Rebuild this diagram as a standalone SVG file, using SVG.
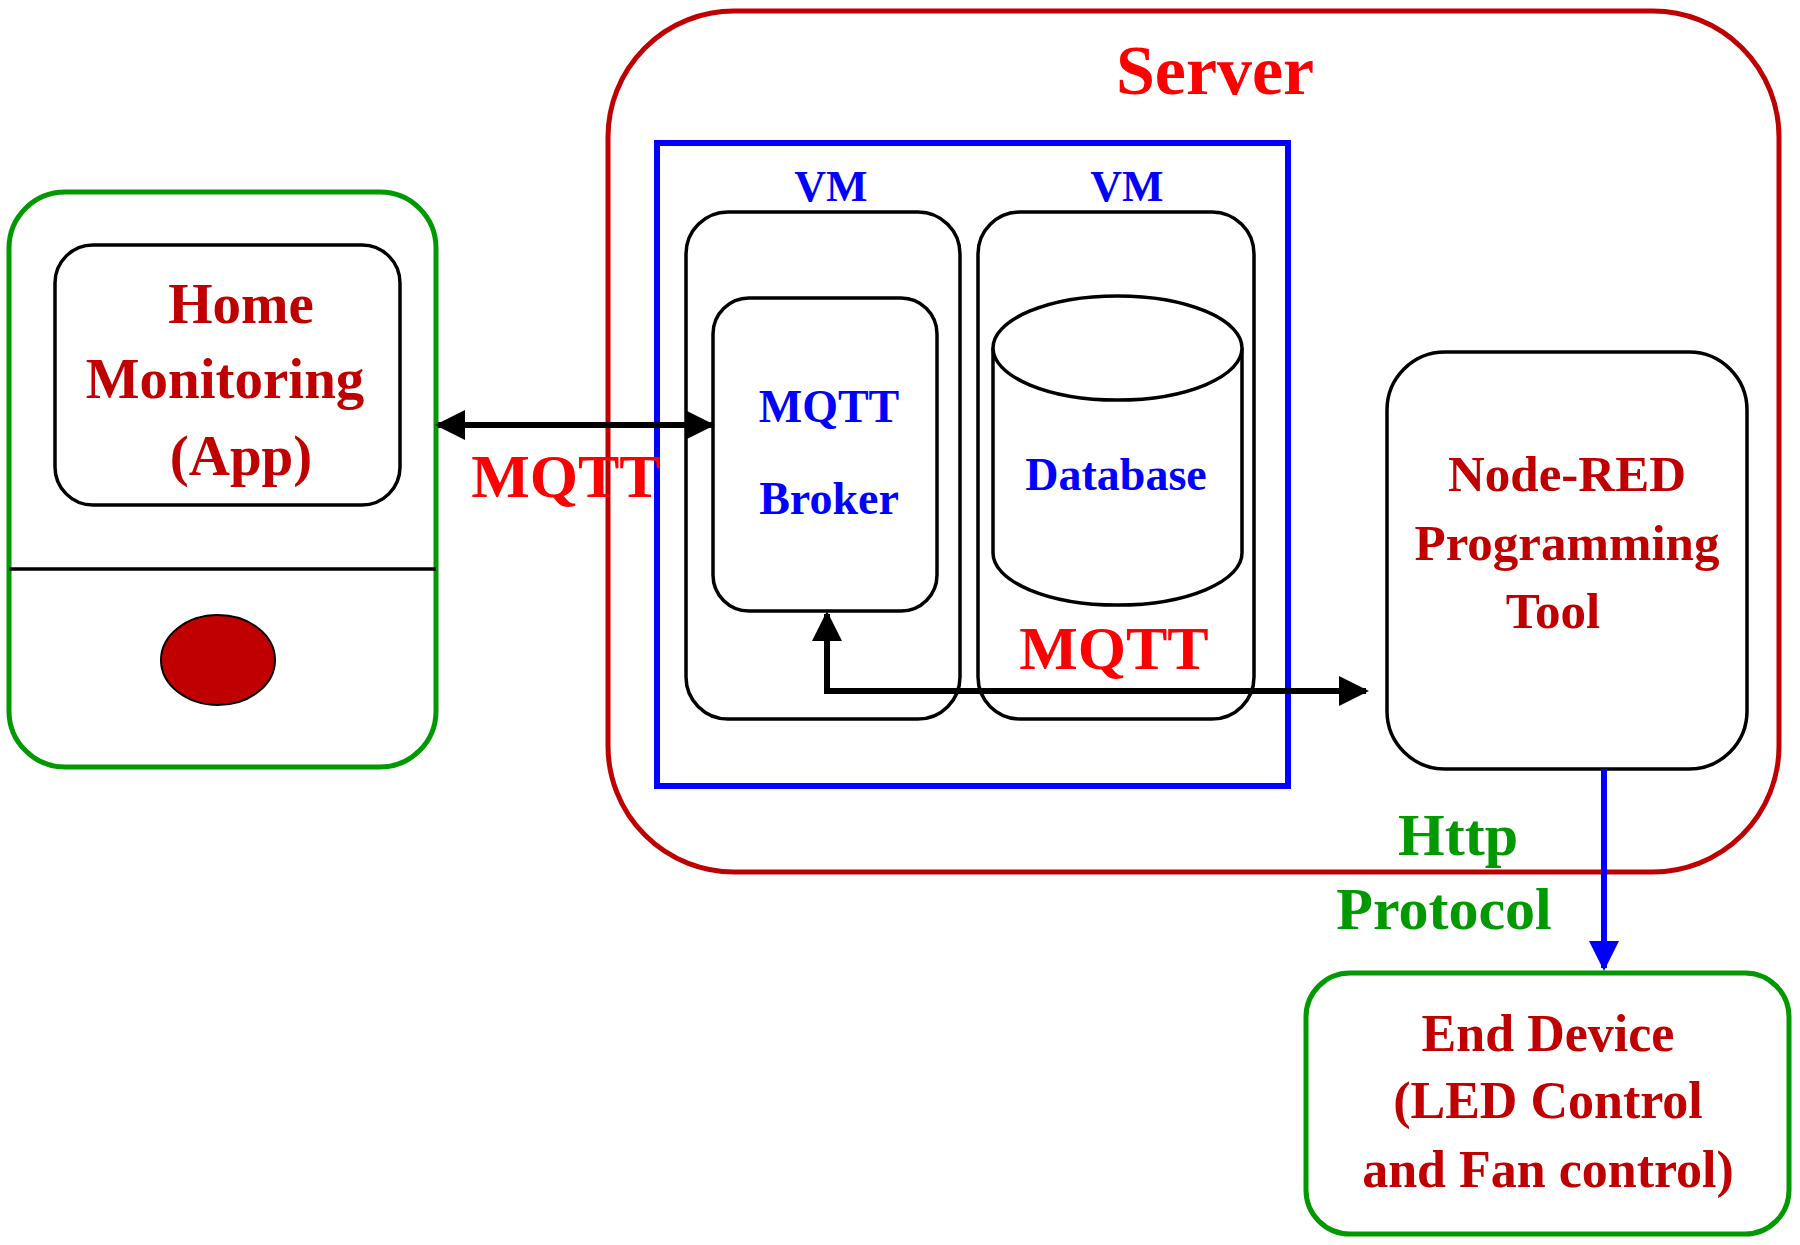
<svg xmlns="http://www.w3.org/2000/svg" width="1800" height="1245" viewBox="0 0 1800 1245">
<defs>
<style>
text{font-family:"Liberation Serif","Times New Roman",serif;font-weight:bold;text-anchor:middle}
.dr{fill:#c00000}.rd{fill:#ff0000}.bl{fill:#0000ff}.gr{fill:#009900}
.k{fill:none;stroke:#000;stroke-width:3.5}
</style>
<marker id="ak" viewBox="0 0 10 10" refX="9" refY="5" markerWidth="5" markerHeight="5" orient="auto-start-reverse"><path d="M0,0L10,5L0,10z" fill="#000"/></marker>
<marker id="ab" viewBox="0 0 10 10" refX="9" refY="5" markerWidth="5" markerHeight="5" orient="auto"><path d="M0,0L10,5L0,10z" fill="#0000ff"/></marker>
</defs>
<rect width="1800" height="1245" fill="#fff"/>
<g id="server"><rect x="608" y="11" width="1171" height="861" rx="126" fill="none" stroke="#c00000" stroke-width="5"/><text x="1215" y="94" font-size="70" class="rd">Server</text></g>
<g id="vmgroup"><rect x="657" y="143" width="631" height="643" fill="none" stroke="#0000ff" stroke-width="6"/></g>
<g id="vm1"><rect x="686" y="212" width="274" height="507" rx="42" class="k"/><text x="831" y="201" font-size="44" class="bl">VM</text></g>
<g id="vm2"><rect x="978" y="212" width="276" height="507" rx="42" class="k"/><text x="1127" y="201" font-size="44" class="bl">VM</text></g>
<g id="broker"><rect x="713" y="298" width="224" height="313" rx="36" class="k"/><text x="829" y="422" font-size="46" class="bl">MQTT</text><text x="829" y="514" font-size="46" class="bl">Broker</text></g>
<g id="database"><path d="M993,348 V553 A124.5,52 0 0 0 1242,553 V348" fill="#fff" stroke="#000" stroke-width="3.5"/><ellipse cx="1117.5" cy="348" rx="124.5" ry="52" fill="#fff" stroke="#000" stroke-width="3.5"/><text x="1116" y="490" font-size="46" class="bl">Database</text></g>
<g id="nodered"><rect x="1387" y="352" width="360" height="417" rx="58" class="k"/><text x="1567" y="491" font-size="51" class="dr">Node-RED</text><text x="1567" y="560" font-size="51" class="dr">Programming</text><text x="1553" y="628" font-size="51" class="dr">Tool</text></g>
<g id="app"><rect x="9" y="192" width="427" height="575" rx="56" fill="none" stroke="#009900" stroke-width="5"/><rect x="55" y="245" width="345" height="260" rx="38" class="k"/><text x="241" y="323" font-size="57" class="dr">Home</text><text x="225" y="398" font-size="57" class="dr">Monitoring</text><text x="241" y="475" font-size="57" class="dr">(App)</text><line x1="9" y1="569" x2="436" y2="569" stroke="#000" stroke-width="3.5"/><ellipse cx="218" cy="660" rx="57" ry="45" fill="#c00000" stroke="#000" stroke-width="2"/></g>
<g id="enddevice"><rect x="1306" y="973" width="483" height="261" rx="44" fill="none" stroke="#009900" stroke-width="5"/><text x="1548" y="1051" font-size="52" class="dr">End Device</text><text x="1548" y="1118" font-size="52" class="dr">(LED Control</text><text x="1548" y="1187" font-size="52" class="dr">and Fan control)</text></g>
<g id="connectors">
<line x1="438" y1="425" x2="712" y2="425" stroke="#000" stroke-width="6" marker-start="url(#ak)" marker-end="url(#ak)"/>
<path d="M1366,691 H827 V614" fill="none" stroke="#000" stroke-width="6" marker-start="url(#ak)" marker-end="url(#ak)"/>
<line x1="1604" y1="769" x2="1604" y2="968" stroke="#0000ff" stroke-width="6" marker-end="url(#ab)"/>
<text x="566" y="497" font-size="62" class="rd">MQTT</text>
<text x="1114" y="669" font-size="62" class="rd">MQTT</text>
<text x="1458" y="855" font-size="60" class="gr">Http</text>
<text x="1444" y="929" font-size="60" class="gr">Protocol</text>
</g>
</svg>
